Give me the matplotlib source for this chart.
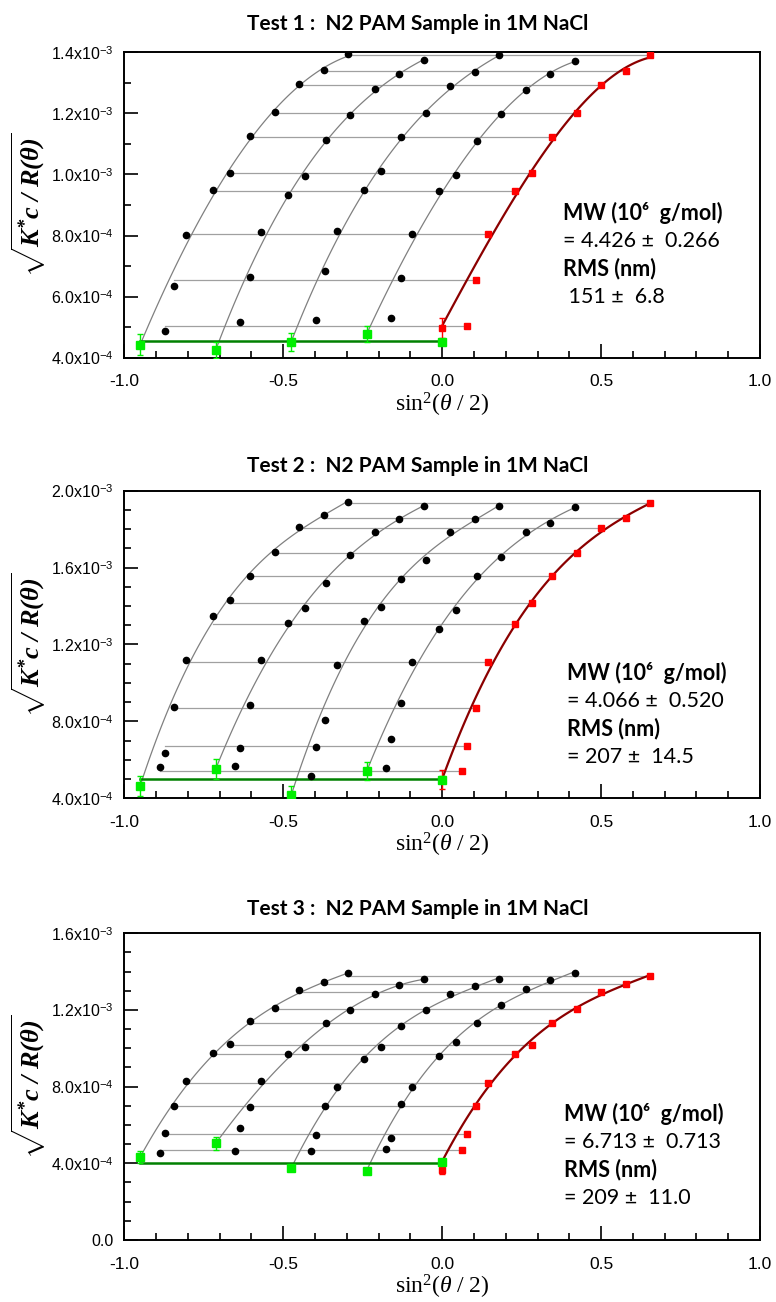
import numpy as np
import matplotlib
matplotlib.use('Agg')
import matplotlib.pyplot as plt
from matplotlib.ticker import MultipleLocator, FuncFormatter

plt.rcParams['font.family'] = ['Liberation Sans', 'DejaVu Sans']
plt.rcParams['mathtext.fontset'] = 'custom'
plt.rcParams['mathtext.rm'] = 'Liberation Serif'
plt.rcParams['mathtext.it'] = 'Liberation Serif:italic'
plt.rcParams['mathtext.bf'] = 'Liberation Serif:bold:italic'
plt.rcParams['mathtext.sf'] = 'Liberation Sans'

# k*c offset of each concentration on the x axis (highest conc first)
kc = [-0.95, -0.7125, -0.475, -0.2375]

# ---- Test 1 (values in 1e-3) ----
s2_1 = [0.078, 0.107, 0.143, 0.229, 0.282, 0.347, 0.424, 0.501, 0.578, 0.655]
black_1 = [
    [0.487, 0.635, 0.802, 0.949, 1.004, 1.127, 1.203, 1.296, 1.341, 1.393],
    [0.516, 0.663, 0.810, 0.932, 0.996, 1.113, 1.195, 1.281, 1.328, 1.375],
    [0.522, 0.683, 0.814, 0.948, 1.011, 1.122, 1.202, 1.289, 1.336, 1.391],
    [0.529, 0.660, 0.805, 0.945, 0.999, 1.111, 1.198, 1.277, 1.328, 1.373],
]
red_1 = [0.503, 0.654, 0.805, 0.946, 1.004, 1.123, 1.202, 1.293, 1.339, 1.391]
red0_1, red0_err_1, fit0_1 = 0.498, 0.033, 0.505
green_1 = [0.443, 0.425, 0.452, 0.478]
green_err_1 = [0.034, 0.027, 0.029, 0.025]
green0_1, green0_err_1, gline_1 = 0.451, 0.010, 0.454

# ---- Test 2 ----
s2_2 = [0.061, 0.078, 0.107, 0.143, 0.229, 0.282, 0.347, 0.424, 0.501, 0.578, 0.655]
black_2 = [
    [0.563, 0.636, 0.873, 1.117, 1.347, 1.434, 1.558, 1.683, 1.813, 1.874, 1.943],
    [0.566, 0.662, 0.885, 1.119, 1.314, 1.392, 1.522, 1.668, 1.784, 1.851, 1.920],
    [0.514, 0.665, 0.805, 1.093, 1.323, 1.397, 1.541, 1.640, 1.785, 1.851, 1.920],
    [0.558, 0.708, 0.895, 1.108, 1.280, 1.378, 1.557, 1.657, 1.787, 1.830, 1.917],
]
red_2 = [0.542, 0.672, 0.871, 1.107, 1.307, 1.415, 1.557, 1.674, 1.804, 1.856, 1.938]
red0_2, red0_err_2, fit0_2 = 0.497, 0.050, 0.500
green_2 = [0.466, 0.552, 0.416, 0.540]
green_err_2 = [0.052, 0.054, 0.050, 0.047]
green0_2, green0_err_2, gline_2 = 0.497, 0.020, 0.502

# ---- Test 3 ----
s2_3 = [0.061, 0.078, 0.107, 0.143, 0.229, 0.282, 0.347, 0.424, 0.501, 0.578, 0.655]
black_3 = [
    [0.456, 0.560, 0.698, 0.831, 0.974, 1.023, 1.143, 1.212, 1.303, 1.344, 1.391],
    [0.463, 0.586, 0.692, 0.831, 0.970, 1.009, 1.132, 1.200, 1.282, 1.330, 1.360],
    [0.464, 0.548, 0.701, 0.800, 0.944, 1.009, 1.117, 1.200, 1.282, 1.327, 1.360],
    [0.477, 0.534, 0.710, 0.800, 0.958, 1.031, 1.134, 1.228, 1.308, 1.357, 1.391],
]
red_3 = [0.468, 0.553, 0.701, 0.821, 0.970, 1.016, 1.134, 1.205, 1.296, 1.336, 1.377]
red0_3, red0_err_3, fit0_3 = 0.365, 0.020, 0.410
green_3 = [0.433, 0.504, 0.374, 0.362]
green_err_3 = [0.030, 0.033, 0.012, 0.012]
green0_3, green0_err_3, gline_3 = 0.405, 0.012, 0.403

titles = ['Test 1 :  N2 PAM Sample in 1M NaCl',
          'Test 2 :  N2 PAM Sample in 1M NaCl',
          'Test 3 :  N2 PAM Sample in 1M NaCl']
results = [['MW (10\u2076  g/mol)', '= 4.426 \u00b1  0.266', 'RMS (nm)', ' 151 \u00b1  6.8'],
           ['MW (10\u2076  g/mol)', '= 4.066 \u00b1  0.520', 'RMS (nm)', '= 207 \u00b1  14.5'],
           ['MW (10\u2076  g/mol)', '= 6.713 \u00b1  0.713', 'RMS (nm)', '= 209 \u00b1  11.0']]


def ylab(v, pos):
    if abs(v) < 1e-9:
        return '0.0'
    if v < 0.999:
        return '%.1fx10$^{\\mathsf{-4}}$' % (v * 10)
    return '%.1fx10$^{\\mathsf{-3}}$' % v


def fitline(x0, y0, xs, ys, s2, x1):
    # cubic fit, lowest angles left out as in the instrument fit
    use = [i for i in range(len(s2)) if s2[i] > 0.1]
    x = [x0] + [xs[i] for i in use]
    y = [y0] + [ys[i] for i in use]
    w = [6] + [1] * len(use)
    p = np.polyfit(x, y, 3, w=w)
    xx = np.linspace(x0, x1, 80)
    return xx, np.polyval(p, xx)


def zimm(ax, s2, black, red, red0, red0_err, fit0, green, green_err,
         green0, green0_err, gline, ylim, ymajor):
    s2 = np.array(s2)
    # constant-angle lines
    for j in range(len(s2)):
        ax.plot([s2[j] + kc[0], s2[j]], [red[j], red[j]], color='#a0a0a0', lw=0.9, zorder=1)
    # constant-concentration fits
    for n in range(4):
        xx, yy = fitline(kc[n], green[n], s2 + kc[n], black[n], s2, kc[n] + s2[-1])
        ax.plot(xx, yy, color='#808080', lw=0.9, zorder=2)
    ax.plot([kc[0], 0], [gline, gline], color='#008000', lw=1.8, zorder=3)
    xx, yy = fitline(0, fit0, s2, red, s2, s2[-1])
    ax.plot(xx, yy, color='#8b0000', lw=1.6, zorder=3)

    for n in range(4):
        ax.plot(s2 + kc[n], black[n], 'o', color='black', ms=4.5, zorder=5)
    ax.plot(s2, red, 's', color='#ff0000', ms=4.5, zorder=5)
    ax.errorbar([0], [red0], yerr=[red0_err], fmt='s', color='#ff0000', ms=4.5,
                capsize=2.5, elinewidth=1, zorder=6)
    ax.errorbar(kc + [0], green + [green0], yerr=green_err + [green0_err], fmt='s',
                color='#00ee00', ms=5.2, capsize=2.5, elinewidth=1, zorder=7)

    ax.set_xlim(-1.0, 1.0)
    ax.set_ylim(*ylim)
    ax.xaxis.set_major_locator(MultipleLocator(0.5))
    ax.xaxis.set_minor_locator(MultipleLocator(0.1))
    ax.yaxis.set_major_locator(MultipleLocator(ymajor))
    ax.yaxis.set_minor_locator(MultipleLocator(0.1))
    ax.xaxis.set_major_formatter(FuncFormatter(lambda v, p: '%.1f' % v))
    ax.yaxis.set_major_formatter(FuncFormatter(ylab))
    ax.tick_params(which='both', direction='in', top=False, right=False, width=1.2)
    ax.tick_params(which='major', length=10)
    ax.tick_params(which='minor', length=5)
    ax.tick_params(axis='x', labelsize=12.5, pad=12)
    ax.tick_params(axis='y', labelsize=11.5, pad=8)
    for sp in ax.spines.values():
        sp.set_linewidth(1.4)
    ax.set_xlabel(r'$\mathrm{sin}^{2}(\theta\ /\ 2)$', fontsize=17, labelpad=1)
    ax.set_ylabel(r'$\sqrt{\mathbf{K^{*}c\ /\ R(\theta)}}$', fontsize=19, labelpad=2)


W, H = 776, 1302
fig = plt.figure(figsize=(W / 100, H / 100), dpi=100)

boxes = [(52.3, 357.7), (490.7, 798.3), (933.3, 1240.0)]
panels = [
    (s2_1, black_1, red_1, red0_1, red0_err_1, fit0_1, green_1, green_err_1,
     green0_1, green0_err_1, gline_1, (0.4, 1.4), 0.2),
    (s2_2, black_2, red_2, red0_2, red0_err_2, fit0_2, green_2, green_err_2,
     green0_2, green0_err_2, gline_2, (0.4, 2.0), 0.4),
    (s2_3, black_3, red_3, red0_3, red0_err_3, fit0_3, green_3, green_err_3,
     green0_3, green0_err_3, gline_3, (0.0, 1.6), 0.4),
]
title_y = [24, 466, 909]
text_pos = [(563, 213), (567, 673), (564, 1114)]

for k in range(3):
    top, bot = boxes[k]
    ax = fig.add_axes([124.3 / W, 1 - bot / H, (760 - 124.3) / W, (bot - top) / H])
    zimm(ax, *panels[k])
    fig.text(418 / W, 1 - title_y[k] / H, titles[k], ha='center', va='center',
             fontsize=15, fontweight='bold', family=['Lato', 'DejaVu Sans'])
    tx, ty = text_pos[k]
    for i, line in enumerate(results[k]):
        fig.text(tx / W, 1 - (ty + 28 * i) / H, line, ha='left', va='center',
                 fontsize=15.5, fontweight='bold' if i % 2 == 0 else 'normal',
                 family=['Lato', 'DejaVu Sans'])

fig.savefig('out.png', dpi=100)
